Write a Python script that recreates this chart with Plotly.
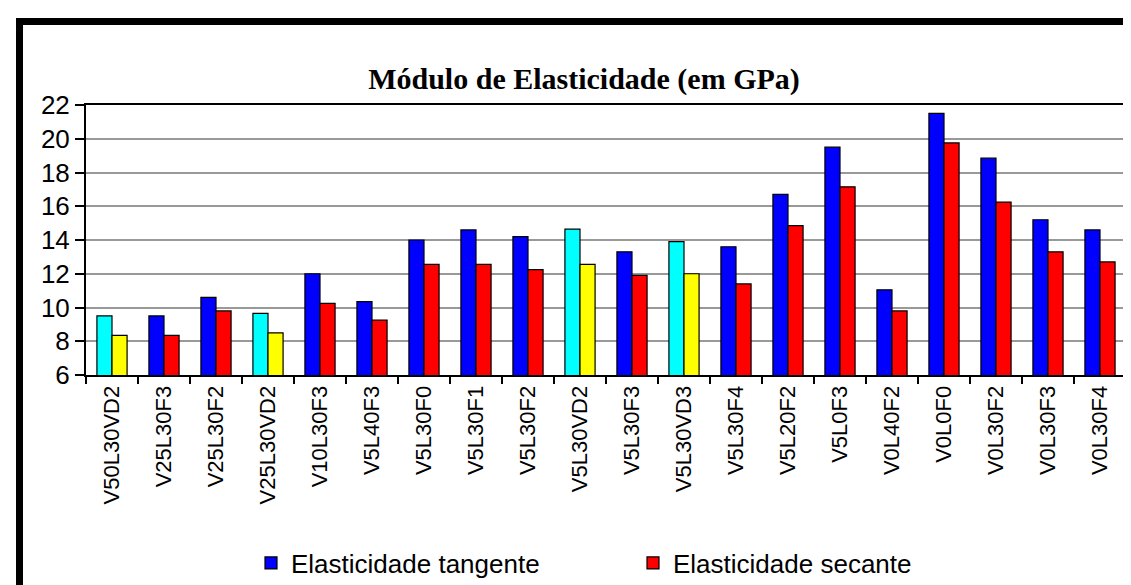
import plotly.graph_objects as go

# categories (mixes)
categorias = ['V50L30VD2', 'V25L30F3', 'V25L30F2', 'V25L30VD2', 'V10L30F3', 'V5L40F3',
              'V5L30F0', 'V5L30F1', 'V5L30F2', 'V5L30VD2', 'V5L30F3', 'V5L30VD3',
              'V5L30F4', 'V5L20F2', 'V5L0F3', 'V0L40F2', 'V0L0F0', 'V0L30F2',
              'V0L30F3', 'V0L30F4']

# modulus of elasticity (GPa)
tangente = [9.5, 9.5, 10.6, 9.65, 12.0, 10.35, 14.0, 14.6, 14.2, 14.65, 13.3, 13.9,
            13.6, 16.7, 19.5, 11.05, 21.5, 18.85, 15.2, 14.6]
secante = [8.35, 8.35, 9.8, 8.5, 10.25, 9.25, 12.55, 12.55, 12.25, 12.55, 11.9, 12.0,
           11.4, 14.85, 17.15, 9.8, 19.75, 16.25, 13.3, 12.7]

# mixes with VD are drawn in cyan / yellow
vd = ['VD' in c for c in categorias]

W, H = 1131, 585
ML, MR, MT, MB = 78, 13, 97, 218
PW, PH = W - ML - MR, H - MT - MB

fig = go.Figure()


def add_pair(vals, cor, cor_vd, nome, grupo):
    normal = [v if not f else None for v, f in zip(vals, vd)]
    especial = [v if f else None for v, f in zip(vals, vd)]
    fig.add_trace(go.Bar(x=categorias, y=normal, name=nome, offsetgroup=grupo,
                         marker=dict(color=cor, line=dict(color='black', width=1.2))))
    fig.add_trace(go.Bar(x=categorias, y=especial, name=nome, offsetgroup=grupo, showlegend=False,
                         marker=dict(color=cor_vd, line=dict(color='black', width=1.2))))


add_pair(tangente, '#0000ff', '#00ffff', 'Elasticidade tangente', 'tan')
add_pair(secante, '#ff0000', '#ffff00', 'Elasticidade secante', 'sec')


def px_x(p):
    return (p - ML) / PW


def px_y(p):
    return (H - MB - p) / PH


# outer frame (top and left thick black border)
fig.add_shape(type='rect', xref='paper', yref='paper', x0=px_x(8), x1=px_x(1131),
              y0=px_y(17), y1=px_y(10), fillcolor='black', line_width=0, layer='above')
fig.add_shape(type='rect', xref='paper', yref='paper', x0=px_x(8), x1=px_x(15),
              y0=px_y(585), y1=px_y(10), fillcolor='black', line_width=0, layer='above')

fig.update_layout(
    width=W, height=H,
    margin=dict(l=ML, r=MR, t=MT, b=MB, autoexpand=False),
    paper_bgcolor='white', plot_bgcolor='white',
    barmode='group', bargap=0.42, bargroupgap=0,
    title=dict(text='<b>Módulo de Elasticidade (em GPa)</b>', x=576 / W, xanchor='center',
               y=1 - 70 / H, yanchor='middle',
               font=dict(family='Liberation Serif', size=30, color='black')),
    font=dict(family='Liberation Sans', color='black'),
    legend=dict(orientation='h', x=px_x(243), xanchor='left', y=px_y(555), yanchor='middle',
                font=dict(size=26), entrywidth=337, entrywidthmode='pixels',
                itemclick=False, bgcolor='rgba(0,0,0,0)'),
    showlegend=True,
)

fig.update_xaxes(type='category', tickson='boundaries', ticks='outside', ticklen=7, tickwidth=2,
                 tickcolor='black', tickangle=-90, tickfont=dict(size=22),
                 showline=True, linecolor='black', linewidth=2, mirror=True, showgrid=False)
fig.update_yaxes(range=[6, 22], dtick=2, ticks='outside', ticklen=9, tickwidth=2, tickcolor='black',
                 tickfont=dict(size=26), showline=True, linecolor='black', linewidth=2, mirror=True,
                 showgrid=True, gridcolor='#999999', gridwidth=1.5, zeroline=False)

fig.write_html('out.html')
